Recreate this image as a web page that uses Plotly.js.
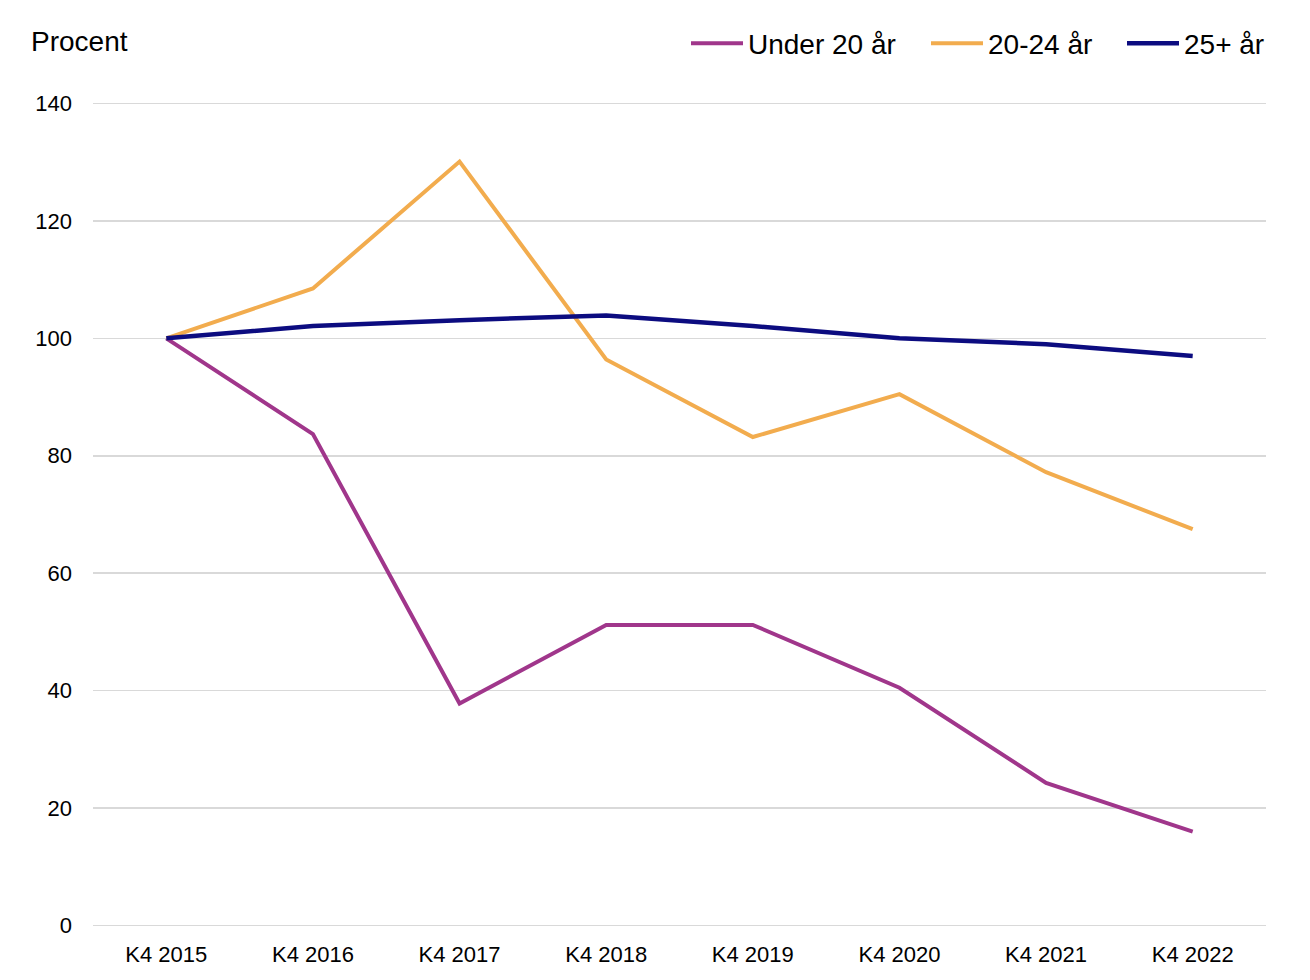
<!DOCTYPE html>
<html>
<head>
<meta charset="utf-8">
<script src="https://cdn.plot.ly/plotly-3.0.1.min.js"></script>
<style>html,body{margin:0;padding:0;background:#fff;}#chart{width:1310px;height:980px;}</style>
</head>
<body>
<div id="chart"></div>
<script>
const categories = ["K4 2015","K4 2016","K4 2017","K4 2018","K4 2019","K4 2020","K4 2021","K4 2022"];
const under20 = [100, 83.7, 37.8, 51.2, 51.2, 40.5, 24.3, 16.0];
const age2024 = [100, 108.5, 130.1, 96.4, 83.2, 90.5, 77.2, 67.5];
const age25plus = [100, 102.1, 103.1, 103.9, 102.1, 100.0, 99.0, 97.0];
const yTicks = [0, 20, 40, 60, 80, 100, 120, 140];

const font = "Liberation Sans, Arial, sans-serif";
const traces = [
  {x: categories, y: under20, name: "Under 20 år", type: "scatter", mode: "lines", line: {color: "#A0368B", width: 4}, legend: "legend"},
  {x: categories, y: age2024, name: "20-24 år", type: "scatter", mode: "lines", line: {color: "#F2AC4E", width: 4}, legend: "legend2"},
  {x: categories, y: age25plus, name: "25+ år", type: "scatter", mode: "lines", line: {color: "#0C0C80", width: 4.5}, legend: "legend3"}
];
function leg(px) {
  return {orientation: "h", x: (px - 93) / 1173, xanchor: "left", y: 1.071, yanchor: "middle",
          font: {family: font, size: 28, color: "#000"}, itemwidth: 52, bgcolor: "rgba(0,0,0,0)", borderwidth: 0};
}
const layout = {
  width: 1310, height: 980,
  margin: {l: 93, r: 44, t: 102, b: 53},
  paper_bgcolor: "#fff", plot_bgcolor: "#fff",
  font: {family: font, size: 22, color: "#000"},
  showlegend: true,
  legend: leg(686), legend2: leg(926), legend3: leg(1122),
  xaxis: {type: "category", range: [-0.5, 7.5], showgrid: false, zeroline: false, showline: false,
          ticks: "outside", ticklen: 8, tickcolor: "rgba(0,0,0,0)", tickfont: {family: font, size: 22}, fixedrange: true},
  yaxis: {range: [-0.25, 140.25], tickvals: yTicks, showgrid: true, gridcolor: "#d9d9d9", gridwidth: 1.5,
          zeroline: false, showline: false, ticks: "", ticklabelstandoff: 20,
          tickfont: {family: font, size: 22}, fixedrange: true},
  annotations: [{text: "Procent", xref: "paper", yref: "paper", x: -0.0545, y: 1.073, xanchor: "left", yanchor: "middle",
                 showarrow: false, font: {family: font, size: 28, color: "#000"}}]
};
Plotly.newPlot("chart", traces, layout, {displayModeBar: false, staticPlot: true});
</script>
</body>
</html>
